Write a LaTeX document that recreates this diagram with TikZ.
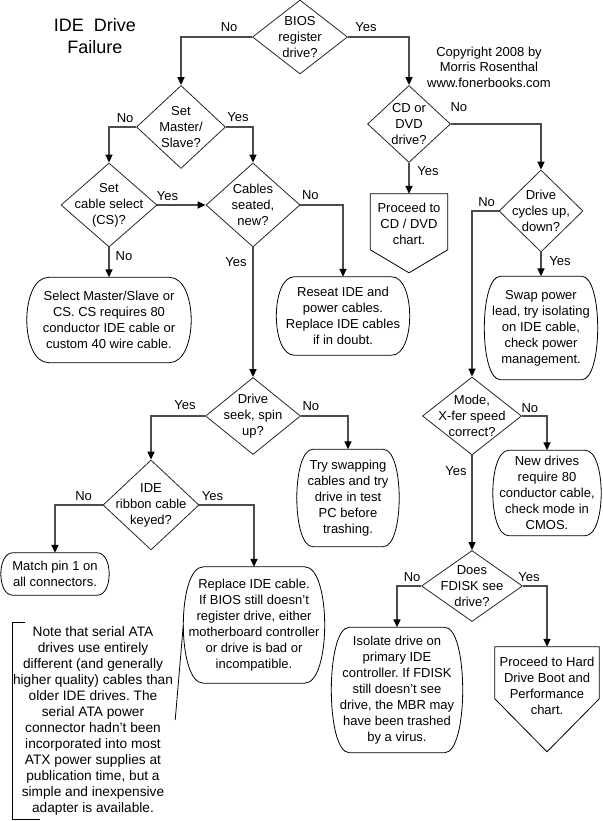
\documentclass[tikz,border=0pt]{standalone}
\usepackage{fontspec}
\setmainfont{Liberation Sans}
\usetikzlibrary{shapes.geometric,arrows.meta,calc}

\frenchspacing
\newcommand{\chartfont}{\fontsize{13}{16}\selectfont}
\newcommand{\titlefont}{\fontsize{18}{22}\selectfont}

% box with bulging sides, drawn round a named node
\newcommand{\capsule}[2][18]{%
  \draw[boxline] ($(#2.north west)+(#1,0)$) -- ($(#2.north east)+(-#1,0)$)
    .. controls ($(#2.north east)+(#1/3,0)$) and ($(#2.south east)+(#1/3,0)$) .. ($(#2.south east)+(-#1,0)$)
    -- ($(#2.south west)+(#1,0)$)
    .. controls ($(#2.south west)+(-#1/3,0)$) and ($(#2.north west)+(-#1/3,0)$) .. cycle;}

% off-page box: #2 = depth of the sides, #3 = depth of the point
\newcommand{\offpage}[3]{%
  \draw[boxline] (#1.north west) -- (#1.north east) -- ($(#1.north east)+(0,#2)$)
    -- ($(#1.north)+(0,#3)$) -- ($(#1.north west)+(0,#2)$) -- cycle;}

\tikzset{
  decision/.style 2 args={shape=diamond, draw=black!85, line width=0.8pt,
    inner sep=0pt, minimum width=#1, minimum height=#2},
  qtext/.style={align=center, font=\chartfont, inner sep=0pt},
  endbox/.style 2 args={align=center, font=\chartfont, inner sep=0pt,
    minimum width=#1, minimum height=#2},
  boxline/.style={draw=black, line width=0.8pt},
  flow/.style={draw=black!70, line width=1.5pt,
    -{Triangle[width=7pt,length=8pt,color=black]}},
  lbl/.style={font=\chartfont, inner sep=0pt},
}

\begin{document}
\begin{tikzpicture}[x=1pt,y=-1pt]
  \useasboundingbox (0,0) rectangle (602,821);

  \node[align=center, font=\titlefont] (title) at (95,36) {IDE\ \ Drive\\Failure};
  \node[qtext, font=\fontsize{13}{15.5}\selectfont] (copyright) at (489,67)
    {Copyright 2008 by\\Morris Rosenthal\\www.fonerbooks.com};

  % decisions
  \node[decision={95}{74}] (bios) at (300,37) {};
  \node[qtext] (bios-t) at (bios) {BIOS\\register\\drive?};
  \node[decision={89}{83}] (master) at (181,127) {};
  \node[qtext] (master-t) at (master) {Set\\Master/\\Slave?};
  \node[decision={96}{84}] (cs) at (109,205) {};
  \node[qtext] (cs-t) at (cs) {Set\\cable select\\(CS)?};
  \node[decision={94}{84}] (cables) at (253,205) {};
  \node[qtext] (cables-t) at (cables) {Cables\\seated,\\new?};
  \node[decision={83}{77}] (cd) at (409,124) {};
  \node[qtext] (cd-t) at (cd) {CD or\\DVD\\drive?};
  \node[decision={84}{82}] (cycles) at (541,211) {};
  \node[qtext] (cycles-t) at (cycles) {Drive\\cycles up,\\down?};
  \node[decision={95}{77}] (seek) at (253,416) {};
  \node[qtext] (seek-t) at (seek) {Drive\\seek, spin\\up?};
  \node[decision={96}{90}] (ide) at (151,505) {};
  \node[qtext] (ide-t) at (ide) {IDE\\ribbon cable\\keyed?};
  \node[decision={99}{78}] (mode) at (472,416) {};
  \node[qtext] (mode-t) at (mode) {Mode,\\X-fer speed\\correct?};
  \node[decision={101}{71}] (fdisk) at (472,586) {};
  \node[qtext] (fdisk-t) at (fdisk) {Does\\FDISK see\\drive?};

  % actions
  \node[endbox={164}{85}] (select) at (109,320)
    {Select Master/Slave or\\CS. CS requires 80\\conductor IDE cable or\\custom 40 wire cable.};
  \capsule[22]{select}
  \node[endbox={133}{78}] (reseat) at (343,316)
    {Reseat IDE and\\power cables.\\Replace IDE cables\\if in doubt.};
  \capsule{reseat}
  \node[endbox={77}{60}] (cdchart) at (409,224) {Proceed to\\CD / DVD\\chart.};
  \offpage{cdchart}{56}{79}
  \node[endbox={113}{103}] (swap) at (541,328)
    {Swap power\\lead, try isolating\\on IDE cable,\\check power\\management.};
  \capsule[16]{swap}
  \node[endbox={102}{97}] (try) at (348,498)
    {Try swapping\\cables and try\\drive in test\\PC before\\trashing.};
  \capsule[16]{try}
  \node[endbox={108}{85}] (newdrv) at (547,493)
    {New drives\\require 80\\conductor cable,\\check mode in\\CMOS.};
  \capsule[16]{newdrv}
  \node[endbox={108}{42}] (match) at (55,574) {Match pin 1 on\\all connectors.};
  \capsule[12]{match}
  \node[endbox={141}{116}] (replace) at (254,625)
    {Replace IDE cable.\\If BIOS still doesn’t\\register drive, either\\motherboard controller\\or drive is bad or\\incompatible.};
  \capsule[20]{replace}
  \node[endbox={131}{125}] (isolate) at (397,690)
    {Isolate drive on\\primary IDE\\controller. If FDISK\\still doesn’t see\\drive, the MBR may\\have been trashed\\by a virus.};
  \capsule{isolate}
  \node[endbox={104}{78}] (hard) at (547,686)
    {Proceed to Hard\\Drive Boot and\\Performance\\chart.};
  \offpage{hard}{52}{105}

  % note
  \node[endbox={160}{197}, font=\fontsize{13.7}{16}\selectfont] (note) at (93,721)
    {Note that serial ATA\\drives use entirely\\different (and generally\\higher quality) cables than\\older IDE drives. The\\serial ATA power\\connector hadn’t been\\incorporated into most\\ATX power supplies at\\publication time, but a\\simple and inexpensive\\adapter is available.};
  \draw[boxline] ($(note.north west)+(12,0)$) -- (note.north west) -- (note.south west)
    -- ($(note.south west)+(27,0)$);
  \coordinate (note-tip) at ($(note.east)+(2,-1)$);
  \draw[boxline] (note-tip) -- (replace.west);

  % connectors
  \draw[flow] (bios.west) node[lbl,shift={(-23,-10)}] {No} -| (master.north);
  \draw[flow] (bios.east) node[lbl,shift={(18,-10)}] {Yes} -| (cd.north);
  \draw[flow] (master.west) node[lbl,shift={(-11,-9)}] {No} -| (cs.north);
  \draw[flow] (master.east) node[lbl,shift={(12,-10)}] {Yes} -| (cables.north);
  \draw[flow] (cs.east) node[lbl,shift={(10,-9)}] {Yes} -- (cables.west);
  \draw[flow] (cs.south) node[lbl,shift={(15,9)}] {No} -- (select.north);
  \draw[flow] (cables.east) node[lbl,shift={(10,-10)}] {No} -| (reseat.north);
  \draw[flow] (cables.south) node[lbl,shift={(-17,15)}] {Yes} -- (seek.north);
  \draw[flow] (cd.east) node[lbl,shift={(8,-17)}] {No} -| (cycles.north);
  \draw[flow] (cd.south) node[lbl,shift={(19,8)}] {Yes} -- (cdchart.north);
  \draw[flow] (cycles.west) node[lbl,shift={(-12,-9)}] {No} -| (mode.north);
  \draw[flow] (cycles.south) node[lbl,shift={(19,9)}] {Yes} -- (swap.north);
  \draw[flow] (seek.west) node[lbl,shift={(-20,-11)}] {Yes} -| (ide.north);
  \draw[flow] (seek.east) node[lbl,shift={(10,-10)}] {No} -| (try.north);
  \draw[flow] (ide.west) node[lbl,shift={(-19,-9)}] {No} -| (match.north);
  \draw[flow] (ide.east) node[lbl,shift={(13,-9)}] {Yes} -| (replace.north);
  \draw[flow] (mode.east) node[lbl,shift={(8,-8)}] {No} -| (newdrv.north);
  \draw[flow] (mode.south) node[lbl,shift={(-16,16)}] {Yes} -- (fdisk.north);
  \draw[flow] (fdisk.west) node[lbl,shift={(-9,-9)}] {No} -| (isolate.north);
  \draw[flow] (fdisk.east) node[lbl,shift={(6,-9)}] {Yes} -| (hard.north);
\end{tikzpicture}
\end{document}
